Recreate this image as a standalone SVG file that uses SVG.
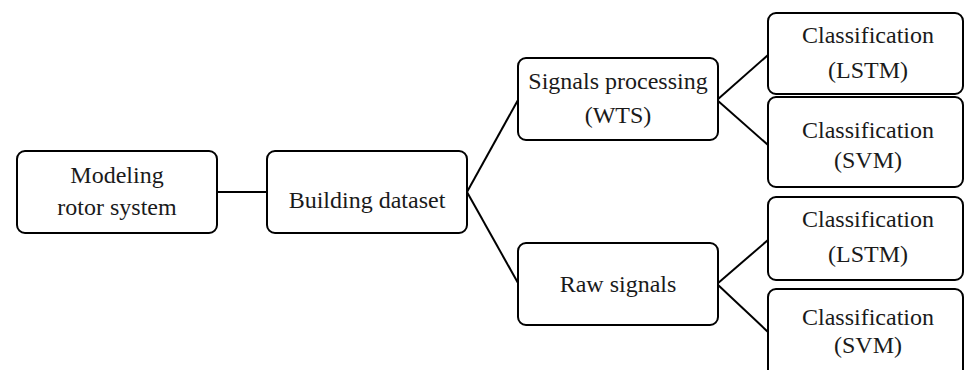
<svg xmlns="http://www.w3.org/2000/svg" width="964" height="370" viewBox="0 0 964 370">
<style>
.box{fill:#fff;stroke:#000;stroke-width:2}
.c{stroke:#000;stroke-width:2;fill:none}
</style>
<rect width="964" height="370" fill="#fff"/>
<g id="connectors">
<line class="c" x1="217" y1="192" x2="267" y2="192"/>
<line class="c" x1="467" y1="192" x2="518" y2="100"/>
<line class="c" x1="467" y1="192" x2="518" y2="283"/>
<line class="c" x1="717" y1="100" x2="768" y2="55"/>
<line class="c" x1="717" y1="100" x2="768" y2="145"/>
<line class="c" x1="717" y1="284" x2="768" y2="240"/>
<line class="c" x1="717" y1="284" x2="768" y2="332"/>
</g>
<g id="modeling">
<rect class="box" x="17" y="151" width="200" height="82" rx="8"/>
<text x="117" y="183" font-family="Liberation Serif" font-size="24" text-anchor="middle" fill="#1a1a1a">Modeling</text>
<text x="117" y="215" font-family="Liberation Serif" font-size="24" text-anchor="middle" fill="#1a1a1a">rotor system</text>
</g>
<g id="building">
<rect class="box" x="267" y="151" width="200" height="82" rx="8"/>
<text x="367" y="208" font-family="Liberation Serif" font-size="24" text-anchor="middle" fill="#1a1a1a">Building dataset</text>
</g>
<g id="signals">
<rect class="box" x="518" y="58" width="200" height="82" rx="8"/>
<text x="618" y="89" font-family="Liberation Serif" font-size="24" text-anchor="middle" fill="#1a1a1a">Signals processing</text>
<text x="618" y="123" font-family="Liberation Serif" font-size="24" text-anchor="middle" fill="#1a1a1a">(WTS)</text>
</g>
<g id="raw">
<rect class="box" x="518" y="243" width="200" height="82" rx="8"/>
<text x="618" y="292" font-family="Liberation Serif" font-size="24" text-anchor="middle" fill="#1a1a1a">Raw signals</text>
</g>
<g id="cls1">
<rect class="box" x="768" y="13" width="195" height="81" rx="8"/>
<text x="868" y="43" font-family="Liberation Serif" font-size="24" text-anchor="middle" fill="#1a1a1a">Classification</text>
<text x="868" y="78" font-family="Liberation Serif" font-size="24" text-anchor="middle" fill="#1a1a1a">(LSTM)</text>
</g>
<g id="cls2">
<rect class="box" x="768" y="97" width="195" height="90" rx="8"/>
<text x="868" y="138" font-family="Liberation Serif" font-size="24" text-anchor="middle" fill="#1a1a1a">Classification</text>
<text x="868" y="168" font-family="Liberation Serif" font-size="24" text-anchor="middle" fill="#1a1a1a">(SVM)</text>
</g>
<g id="cls3">
<rect class="box" x="768" y="197" width="195" height="83" rx="8"/>
<text x="868" y="227" font-family="Liberation Serif" font-size="24" text-anchor="middle" fill="#1a1a1a">Classification</text>
<text x="868" y="262" font-family="Liberation Serif" font-size="24" text-anchor="middle" fill="#1a1a1a">(LSTM)</text>
</g>
<g id="cls4">
<rect class="box" x="768" y="289" width="195" height="90" rx="8"/>
<text x="868" y="325" font-family="Liberation Serif" font-size="24" text-anchor="middle" fill="#1a1a1a">Classification</text>
<text x="868" y="353" font-family="Liberation Serif" font-size="24" text-anchor="middle" fill="#1a1a1a">(SVM)</text>
</g>
</svg>
